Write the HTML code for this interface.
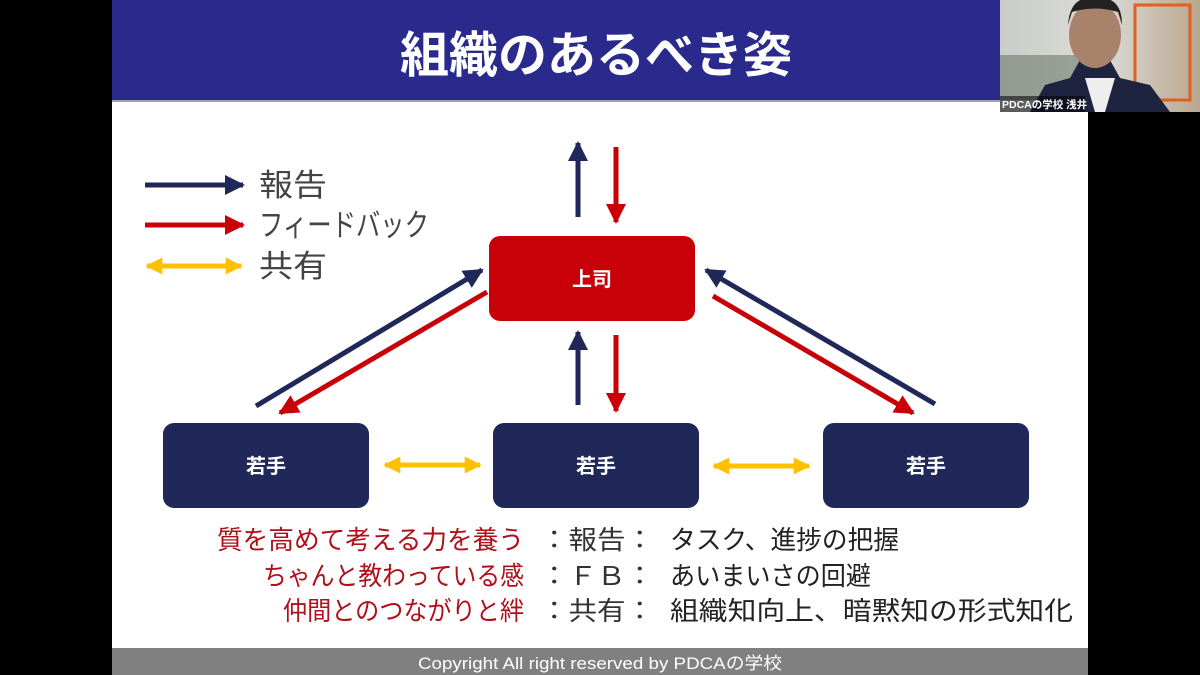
<!DOCTYPE html>
<html><head><meta charset="utf-8"><style>
html,body{margin:0;padding:0;background:#000;width:1200px;height:675px;overflow:hidden}
svg{display:block}
text{font-family:"Liberation Sans","Noto Sans CJK JP",sans-serif}
</style></head><body>
<svg width="1200" height="675" viewBox="0 0 1200 675" xmlns="http://www.w3.org/2000/svg">
<defs>
<marker id="hn" viewBox="0 0 10 10" refX="9" refY="5" markerWidth="4" markerHeight="4" orient="auto" markerUnits="strokeWidth"><path d="M0,0L10,5L0,10z" fill="#1f2859"/></marker>
<marker id="hr" viewBox="0 0 10 10" refX="9" refY="5" markerWidth="4" markerHeight="4" orient="auto" markerUnits="strokeWidth"><path d="M0,0L10,5L0,10z" fill="#c80008"/></marker>
<marker id="hy" viewBox="0 0 10 10" refX="9" refY="5" markerWidth="3.4" markerHeight="3.4" orient="auto-start-reverse" markerUnits="strokeWidth"><path d="M0,0L10,5L0,10z" fill="#ffc000"/></marker>
<linearGradient id="cam" x1="0" y1="0" x2="1" y2="0"><stop offset="0" stop-color="#c9ccc9"/><stop offset="0.5" stop-color="#dcdcd8"/><stop offset="1" stop-color="#b9a78f"/></linearGradient>
</defs>
<rect x="112" y="0" width="976" height="675" fill="#fff"/>
<rect x="112" y="0" width="976" height="100" fill="#2a2a8c"/>
<rect x="112" y="100" width="976" height="2" fill="#a0a0b0"/>
<text x="596" y="72" font-size="49" font-weight="bold" fill="#fff" text-anchor="middle" textLength="392" lengthAdjust="spacingAndGlyphs">組織のあるべき姿</text>
<!-- webcam -->
<rect x="1000" y="0" width="200" height="112" fill="url(#cam)"/>
<rect x="1000" y="55" width="80" height="45" fill="#5b6a58" opacity="0.5"/>
<rect x="1135" y="5" width="55" height="95" fill="none" stroke="#e06020" stroke-width="3"/>
<path d="M1030,112 L1045,85 L1070,78 L1080,60 L1110,60 L1120,78 L1150,85 L1170,112Z" fill="#1e2440"/>
<path d="M1085,78 L1095,112 L1105,112 L1115,78Z" fill="#eee"/>
<ellipse cx="1095" cy="35" rx="26" ry="33" fill="#a8826a"/>
<path d="M1068,25 Q1070,-5 1095,-2 Q1122,-5 1122,25 L1118,12 Q1095,5 1072,12Z" fill="#222"/>
<rect x="1000" y="96" width="85" height="16" fill="#000" opacity="0.55"/>
<text x="1002" y="108" font-size="10.5" font-weight="bold" fill="#fff">PDCAの学校 浅井</text>
<!-- legend -->
<line x1="145" y1="185" x2="243" y2="185" stroke="#1f2859" stroke-width="5" marker-end="url(#hn)"/>
<line x1="145" y1="225" x2="243" y2="225" stroke="#c80008" stroke-width="5" marker-end="url(#hr)"/>
<line x1="147" y1="266" x2="241" y2="266" stroke="#ffc000" stroke-width="5" marker-start="url(#hy)" marker-end="url(#hy)"/>
<text x="259" y="196" font-size="31" fill="#444" textLength="68" lengthAdjust="spacingAndGlyphs">報告</text>
<text x="259" y="236" font-size="31" fill="#444" textLength="170" lengthAdjust="spacingAndGlyphs">フィードバック</text>
<text x="259" y="277" font-size="31" fill="#444" textLength="68" lengthAdjust="spacingAndGlyphs">共有</text>
<!-- boxes -->
<rect x="489" y="236" width="206" height="85" rx="11" fill="#c80008"/>
<text x="592" y="286" font-size="20" font-weight="bold" fill="#fff" text-anchor="middle">上司</text>
<rect x="163" y="423" width="206" height="85" rx="11" fill="#1f2859"/>
<rect x="493" y="423" width="206" height="85" rx="11" fill="#1f2859"/>
<rect x="823" y="423" width="206" height="85" rx="11" fill="#1f2859"/>
<text x="266" y="473" font-size="20" font-weight="bold" fill="#fff" text-anchor="middle">若手</text>
<text x="596" y="473" font-size="20" font-weight="bold" fill="#fff" text-anchor="middle">若手</text>
<text x="926" y="473" font-size="20" font-weight="bold" fill="#fff" text-anchor="middle">若手</text>
<!-- arrows -->
<line x1="578" y1="217" x2="578" y2="143" stroke="#1f2859" stroke-width="5" marker-end="url(#hn)"/>
<line x1="616" y1="147" x2="616" y2="222" stroke="#c80008" stroke-width="5" marker-end="url(#hr)"/>
<line x1="578" y1="405" x2="578" y2="332" stroke="#1f2859" stroke-width="5" marker-end="url(#hn)"/>
<line x1="616" y1="335" x2="616" y2="411" stroke="#c80008" stroke-width="5" marker-end="url(#hr)"/>
<line x1="256" y1="406" x2="482" y2="270" stroke="#1f2859" stroke-width="5" marker-end="url(#hn)"/>
<line x1="487" y1="292" x2="280" y2="413" stroke="#c80008" stroke-width="5" marker-end="url(#hr)"/>
<line x1="935" y1="404" x2="706" y2="270" stroke="#1f2859" stroke-width="5" marker-end="url(#hn)"/>
<line x1="713" y1="296" x2="913" y2="413" stroke="#c80008" stroke-width="5" marker-end="url(#hr)"/>
<line x1="385" y1="465" x2="480" y2="465" stroke="#ffc000" stroke-width="5" marker-start="url(#hy)" marker-end="url(#hy)"/>
<line x1="714" y1="466" x2="809" y2="466" stroke="#ffc000" stroke-width="5" marker-start="url(#hy)" marker-end="url(#hy)"/>
<!-- bottom text -->
<g font-size="26">
<text x="217" y="549" fill="#b0101a" textLength="307" lengthAdjust="spacingAndGlyphs">質を高めて考える力を養う</text>
<text x="263" y="585" fill="#b0101a" textLength="261" lengthAdjust="spacingAndGlyphs">ちゃんと教わっている感</text>
<text x="283" y="620" fill="#b0101a" textLength="241" lengthAdjust="spacingAndGlyphs">仲間とのつながりと絆</text>
<text x="540" y="549" fill="#333" textLength="114" lengthAdjust="spacingAndGlyphs">：報告：</text>
<text x="540" y="585" fill="#333" textLength="114" lengthAdjust="spacingAndGlyphs">：ＦＢ：</text>
<text x="540" y="620" fill="#333" textLength="114" lengthAdjust="spacingAndGlyphs">：共有：</text>
<text x="670" y="549" fill="#222" textLength="229" lengthAdjust="spacingAndGlyphs">タスク、進捗の把握</text>
<text x="670" y="585" fill="#222" textLength="201" lengthAdjust="spacingAndGlyphs">あいまいさの回避</text>
<text x="670" y="620" fill="#222" textLength="403" lengthAdjust="spacingAndGlyphs">組織知向上、暗黙知の形式知化</text>
</g>
<rect x="112" y="648" width="976" height="27" fill="#808080"/>
<text x="418" y="669" font-size="17" fill="#fff" textLength="364" lengthAdjust="spacingAndGlyphs">Copyright All right reserved by PDCAの学校</text>
</svg>
</body></html>
